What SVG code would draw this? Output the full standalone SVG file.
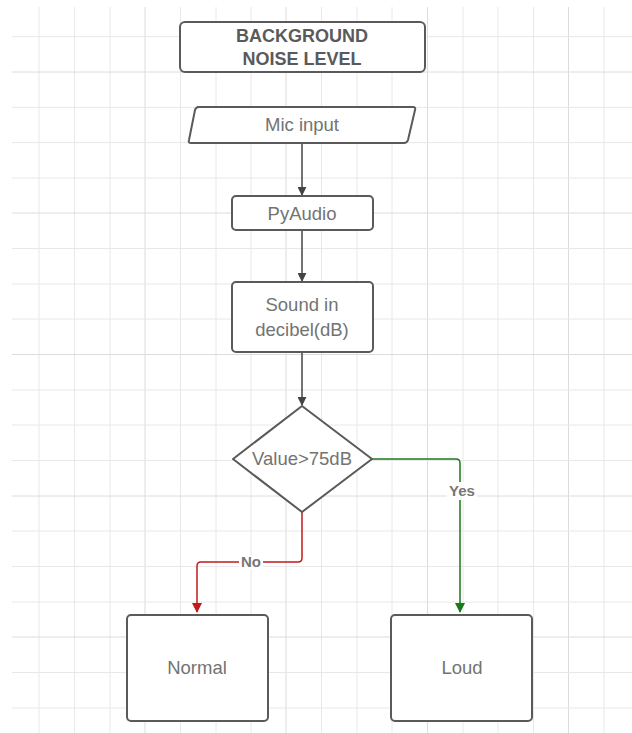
<svg xmlns="http://www.w3.org/2000/svg" width="632" height="733" viewBox="0 0 632 733">
<defs>
<style>
.grid line{stroke:#e8e8e8;stroke-width:1}
.grid line.maj{stroke:#dcdcdc}
.node{fill:#fff;stroke:#5a5a5a;stroke-width:2}
.t{font-family:"Liberation Sans",Arial,sans-serif;font-size:18.5px;fill:#737373;text-anchor:middle}
.tb{font-family:"Liberation Sans",Arial,sans-serif;font-size:18px;font-weight:bold;fill:#5a5a5a;text-anchor:middle}
.lbl{font-family:"Liberation Sans",Arial,sans-serif;font-size:15px;font-weight:bold;fill:#777;text-anchor:middle}
.c{fill:none;stroke-width:1.5}
</style>
<marker id="ag" viewBox="0 0 10 10" refX="9" refY="5" markerWidth="9" markerHeight="9" orient="auto" markerUnits="userSpaceOnUse"><path d="M0,0 L10,5 L0,10 z" fill="#444"/></marker>
<marker id="agr" viewBox="0 0 10 10" refX="9" refY="5" markerWidth="10" markerHeight="10" orient="auto" markerUnits="userSpaceOnUse"><path d="M0,0 L10,5 L0,10 z" fill="#1a7a1a"/></marker>
<marker id="ar" viewBox="0 0 10 10" refX="9" refY="5" markerWidth="10" markerHeight="10" orient="auto" markerUnits="userSpaceOnUse"><path d="M0,0 L10,5 L0,10 z" fill="#c41a1a"/></marker>
</defs>
<rect width="632" height="733" fill="#fff"/>
<g class="grid">
<line x1="39" y1="7" x2="39" y2="733"/><line x1="74.6" y1="7" x2="74.6" y2="733"/><line x1="110" y1="7" x2="110" y2="733"/><line class="maj" x1="145" y1="7" x2="145" y2="733"/><line x1="180.5" y1="7" x2="180.5" y2="733"/><line x1="216" y1="7" x2="216" y2="733"/><line x1="251" y1="7" x2="251" y2="733"/><line class="maj" x1="286" y1="7" x2="286" y2="733"/><line x1="321.5" y1="7" x2="321.5" y2="733"/><line x1="357" y1="7" x2="357" y2="733"/><line x1="392" y1="7" x2="392" y2="733"/><line class="maj" x1="427.5" y1="7" x2="427.5" y2="733"/><line x1="463" y1="7" x2="463" y2="733"/><line x1="498" y1="7" x2="498" y2="733"/><line x1="533.5" y1="7" x2="533.5" y2="733"/><line class="maj" x1="568.5" y1="7" x2="568.5" y2="733"/><line x1="604" y1="7" x2="604" y2="733"/>
<line x1="12" y1="36.7" x2="632" y2="36.7"/><line class="maj" x1="12" y1="72" x2="632" y2="72"/><line x1="12" y1="107.3" x2="632" y2="107.3"/><line x1="12" y1="142.6" x2="632" y2="142.6"/><line x1="12" y1="178" x2="632" y2="178"/><line class="maj" x1="12" y1="213" x2="632" y2="213"/><line x1="12" y1="248.5" x2="632" y2="248.5"/><line x1="12" y1="284" x2="632" y2="284"/><line x1="12" y1="319" x2="632" y2="319"/><line class="maj" x1="12" y1="354.5" x2="632" y2="354.5"/><line x1="12" y1="390" x2="632" y2="390"/><line x1="12" y1="425" x2="632" y2="425"/><line x1="12" y1="460.5" x2="632" y2="460.5"/><line class="maj" x1="12" y1="496" x2="632" y2="496"/><line x1="12" y1="531" x2="632" y2="531"/><line x1="12" y1="566.5" x2="632" y2="566.5"/><line x1="12" y1="602" x2="632" y2="602"/><line class="maj" x1="12" y1="637" x2="632" y2="637"/><line x1="12" y1="672.5" x2="632" y2="672.5"/><line x1="12" y1="708" x2="632" y2="708"/>
</g>
<g id="connectors">
<path class="c" d="M302,143 V195" stroke="#444" marker-end="url(#ag)"/>
<path class="c" d="M302,230 V281" stroke="#444" marker-end="url(#ag)"/>
<path class="c" d="M302,352 V405" stroke="#444" marker-end="url(#ag)"/>
<path class="c" d="M372,459 H456 Q460,459 460,463 V612" stroke="#1a7a1a" marker-end="url(#agr)"/>
<path class="c" d="M302,512 V558 Q302,562 298,562 H201 Q197,562 197,566 V612" stroke="#c41a1a" marker-end="url(#ar)"/>
<rect x="447" y="482" width="30" height="18" fill="#fff"/>
<text class="lbl" x="462" y="496">Yes</text>
<rect x="239" y="555" width="24" height="14" fill="#fff"/>
<text class="lbl" x="251" y="567">No</text>
</g>
<g id="title"><rect class="node" x="180" y="22" width="245" height="50" rx="5"/><text class="tb" x="302" y="42">BACKGROUND</text><text class="tb" x="302" y="65">NOISE LEVEL</text></g>
<g id="mic"><path class="node" d="M197,107 H413 Q416,107 415,110 L408,140 Q407,143 404,143 H191 Q188,143 189,140 L195,110 Q196,107 199,107 Z"/><text class="t" x="302" y="131">Mic input</text></g>
<g id="pyaudio"><rect class="node" x="232" y="196" width="141" height="34" rx="4"/><text class="t" x="302" y="220">PyAudio</text></g>
<g id="sound"><rect class="node" x="232" y="282" width="141" height="70" rx="4"/><text class="t" x="302" y="311">Sound in</text><text class="t" x="302" y="336">decibel(dB)</text></g>
<g id="decision"><path class="node" d="M302,406 L372,459 L302,512 L233,459 Z" stroke-linejoin="round"/><text class="t" x="302" y="465">Value&gt;75dB</text></g>
<g id="normal"><rect class="node" x="127" y="615" width="141" height="106" rx="4"/><text class="t" x="197" y="674">Normal</text></g>
<g id="loud"><rect class="node" x="391" y="615" width="141" height="106" rx="4"/><text class="t" x="462" y="674">Loud</text></g>
</svg>
